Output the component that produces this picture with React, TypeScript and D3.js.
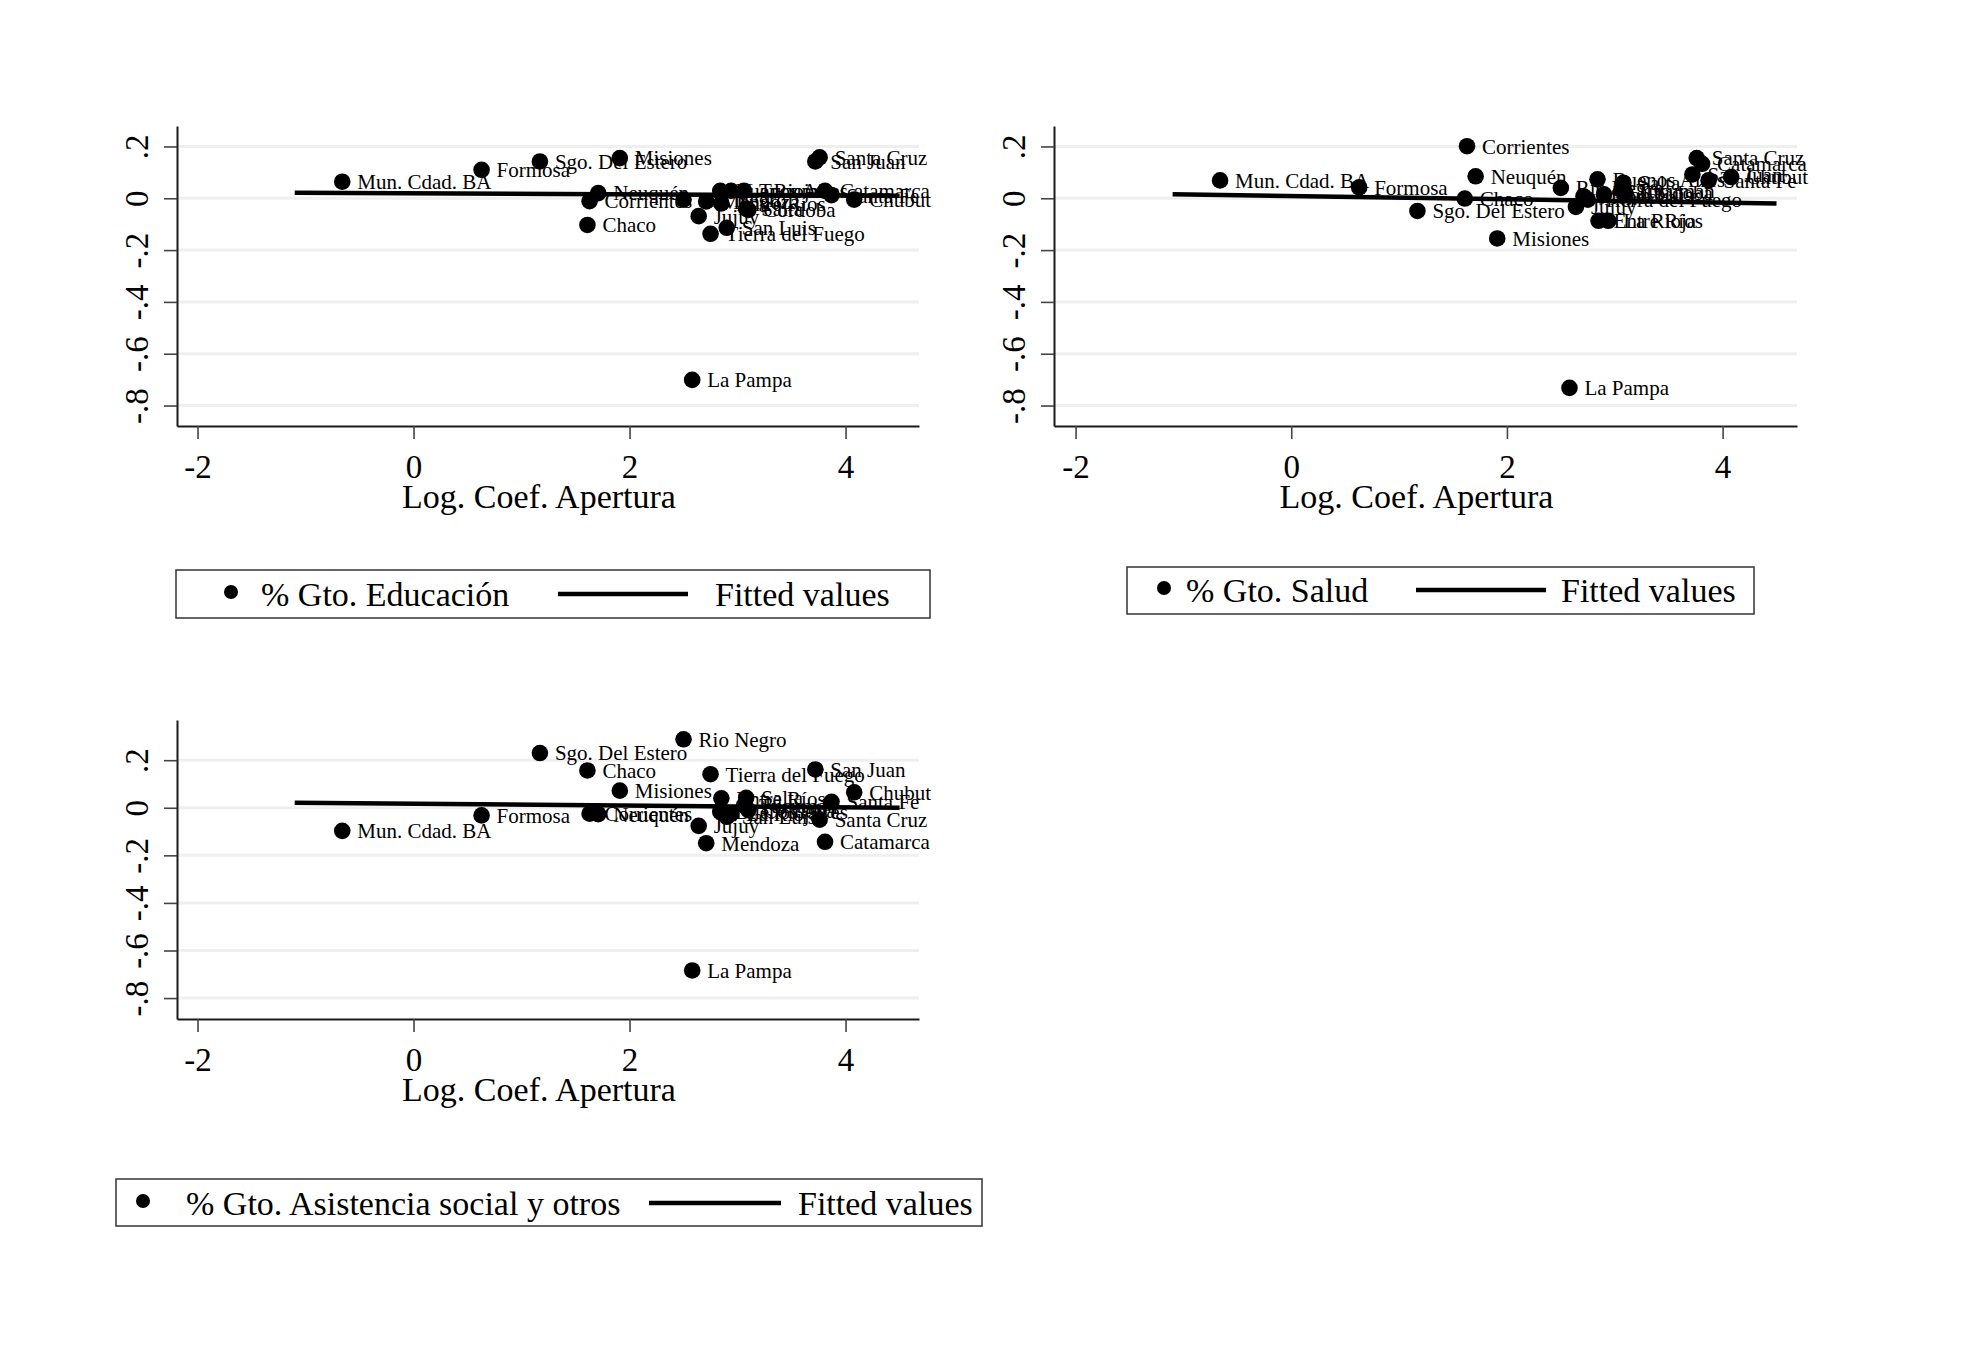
import React, { useEffect, useRef } from 'react';
import * as d3 from 'd3';

// provinces (same order in every series)
const provinces = [
  'Mun. Cdad. BA', 'Formosa', 'Sgo. Del Estero', 'Chaco', 'Corrientes', 'Neuquén',
  'Misiones', 'Rio Negro', 'La Pampa', 'Jujuy', 'Mendoza', 'Tierra del Fuego',
  'Buenos Aires', 'Entre Ríos', 'San Luis', 'La Rioja', 'Tucumán', 'Salta',
  'Córdoba', 'San Juan', 'Santa Cruz', 'Catamarca', 'Santa Fe', 'Chubut',
];

// Log. Coef. Apertura
const apertura = [
  -0.66, 0.63, 1.17, 1.61, 1.63, 1.71,
  1.91, 2.5, 2.58, 2.64, 2.71, 2.75,
  2.84, 2.85, 2.9, 2.94, 3.06, 3.08,
  3.1, 3.72, 3.76, 3.81, 3.87, 4.08,
];

const educacion = [
  0.064, 0.11, 0.142, -0.103, -0.011, 0.02,
  0.155, -0.005, -0.701, -0.069, -0.012, -0.137,
  0.029, -0.02, -0.114, 0.029, 0.029, -0.04,
  -0.045, 0.142, 0.158, 0.029, 0.012, -0.005,
];

const salud = [
  0.069, 0.042, -0.049, -0.001, 0.201, 0.085,
  -0.155, 0.04, -0.732, -0.033, 0.008, -0.005,
  0.073, -0.087, 0.015, -0.087, 0.031, 0.06,
  0.02, 0.092, 0.155, 0.133, 0.069, 0.082,
];

const asistencia = [
  -0.097, -0.032, 0.23, 0.157, -0.025, -0.027,
  0.072, 0.288, -0.684, -0.076, -0.149, 0.141,
  -0.017, 0.04, -0.038, -0.025, 0.01, 0.042,
  -0.01, 0.161, -0.05, -0.143, 0.025, 0.065,
];

// fitted values at the ends of the fitted range
const fitX = [-1.1, 4.5];
const fitEducacion = [0.021, 0.01];
const fitSalud = [0.016, -0.02];
const fitAsistencia = [0.021, 0.0];

const xTicks = [-2, 0, 2, 4];
const xTickLabels = ['-2', '0', '2', '4'];
const yTicks = [0.2, 0, -0.2, -0.4, -0.6, -0.8];
const yTickLabels = ['.2', '0', '-.2', '-.4', '-.6', '-.8'];

const xTitle = 'Log. Coef. Apertura';
const fitLabel = 'Fitted values';

const FONT = '"Liberation Serif", "Times New Roman", serif';

interface PanelCfg {
  values: number[];
  fit: number[];
  legend: string;
  left: number;
  right: number;
  top: number;
  bottom: number;
  xDomain: [number, number];
  yDomain: [number, number];
  box: [number, number, number, number];
  dotX: number;
  textX: number;
  lineX: [number, number];
  fitTextX: number;
  legendY: number;
}

const panels: PanelCfg[] = [
  {
    values: educacion, fit: fitEducacion, legend: '% Gto. Educación',
    left: 177, right: 919, top: 126, bottom: 426,
    xDomain: [-2.19, 4.68], yDomain: [-0.879, 0.279],
    box: [176, 570, 930, 618], dotX: 231, textX: 261, lineX: [558, 688], fitTextX: 715, legendY: 594,
  },
  {
    values: salud, fit: fitSalud, legend: '% Gto. Salud',
    left: 1054, right: 1797, top: 126, bottom: 426,
    xDomain: [-2.2, 4.69], yDomain: [-0.879, 0.279],
    box: [1127, 567, 1754, 614], dotX: 1164, textX: 1186, lineX: [1416, 1546], fitTextX: 1561, legendY: 590,
  },
  {
    values: asistencia, fit: fitAsistencia, legend: '% Gto. Asistencia social y otros',
    left: 177, right: 919, top: 720, bottom: 1019,
    xDomain: [-2.19, 4.68], yDomain: [-0.888, 0.369],
    box: [116, 1179, 982, 1226], dotX: 143, textX: 186, lineX: [649, 781], fitTextX: 798, legendY: 1203,
  },
];

function drawPanel(svg: d3.Selection<SVGSVGElement, unknown, null, undefined>, cfg: PanelCfg) {
  const x = d3.scaleLinear().domain(cfg.xDomain).range([cfg.left, cfg.right]);
  const y = d3.scaleLinear().domain(cfg.yDomain).range([cfg.bottom, cfg.top]);
  const g = svg.append('g');

  // light grid lines at the y ticks
  g.selectAll('line.grid')
    .data(yTicks)
    .join('line')
    .attr('class', 'grid')
    .attr('x1', cfg.left)
    .attr('x2', cfg.right)
    .attr('y1', (d) => y(d))
    .attr('y2', (d) => y(d))
    .attr('stroke', '#efefef')
    .attr('stroke-width', 3);

  // y axis
  const yAxis = g
    .append('g')
    .attr('transform', `translate(${cfg.left},0)`)
    .call(
      d3.axisLeft(y)
        .tickValues(yTicks)
        .tickSize(13)
        .tickSizeOuter(0)
        .tickFormat((_, i) => yTickLabels[i])
    );
  yAxis.select('.domain').attr('stroke', '#1a1a1a').attr('stroke-width', 2);
  yAxis.selectAll('.tick line').attr('stroke', '#444').attr('stroke-width', 1.6);
  yAxis
    .selectAll('.tick text')
    .attr('transform', 'rotate(-90)')
    .attr('x', 0)
    .attr('y', -29)
    .attr('dy', 0)
    .attr('text-anchor', 'middle')
    .attr('fill', '#000')
    .attr('font-family', FONT)
    .attr('font-size', 33);

  // x axis
  const xAxis = g
    .append('g')
    .attr('transform', `translate(0,${cfg.bottom})`)
    .call(
      d3.axisBottom(x)
        .tickValues(xTicks)
        .tickSize(13)
        .tickSizeOuter(0)
        .tickFormat((_, i) => xTickLabels[i])
    );
  xAxis.select('.domain').attr('stroke', '#1a1a1a').attr('stroke-width', 2);
  xAxis.selectAll('.tick line').attr('stroke', '#444').attr('stroke-width', 1.6);
  xAxis
    .selectAll('.tick text')
    .attr('y', 52)
    .attr('dy', 0)
    .attr('fill', '#000')
    .attr('font-family', FONT)
    .attr('font-size', 33);

  // x title
  g.append('text')
    .attr('x', (cfg.left + cfg.right) / 2 - 9)
    .attr('y', cfg.bottom + 82)
    .attr('text-anchor', 'middle')
    .attr('font-family', FONT)
    .attr('font-size', 34)
    .text(xTitle);

  // fitted line
  const line = d3
    .line<number>()
    .x((d) => x(d))
    .y((_, i) => y(cfg.fit[i]));
  g.append('path')
    .datum(fitX)
    .attr('d', line)
    .attr('fill', 'none')
    .attr('stroke', '#000')
    .attr('stroke-width', 4.5);

  // markers with labels
  const pts = provinces.map((name, i) => ({ name, x: apertura[i], y: cfg.values[i] }));
  const pt = g.selectAll('g.pt').data(pts).join('g').attr('class', 'pt');
  pt.append('circle')
    .attr('cx', (d) => x(d.x))
    .attr('cy', (d) => y(d.y))
    .attr('r', 8.3)
    .attr('fill', '#000');
  pt.append('text')
    .attr('x', (d) => x(d.x) + 15)
    .attr('y', (d) => y(d.y))
    .attr('dy', '0.35em')
    .attr('font-family', FONT)
    .attr('font-size', 21)
    .attr('fill', '#000')
    .text((d) => d.name);

  // legend
  const [bx0, by0, bx1, by1] = cfg.box;
  const lg = svg.append('g');
  lg.append('rect')
    .attr('x', bx0)
    .attr('y', by0)
    .attr('width', bx1 - bx0)
    .attr('height', by1 - by0)
    .attr('fill', '#fff')
    .attr('stroke', '#333')
    .attr('stroke-width', 1.5);
  lg.append('circle').attr('cx', cfg.dotX).attr('cy', cfg.legendY - 2).attr('r', 7).attr('fill', '#000');
  lg.append('text')
    .attr('x', cfg.textX)
    .attr('y', cfg.legendY)
    .attr('dy', '0.35em')
    .attr('font-family', FONT)
    .attr('font-size', 34)
    .text(cfg.legend);
  lg.append('line')
    .attr('x1', cfg.lineX[0])
    .attr('x2', cfg.lineX[1])
    .attr('y1', cfg.legendY)
    .attr('y2', cfg.legendY)
    .attr('stroke', '#000')
    .attr('stroke-width', 4.5);
  lg.append('text')
    .attr('x', cfg.fitTextX)
    .attr('y', cfg.legendY)
    .attr('dy', '0.35em')
    .attr('font-family', FONT)
    .attr('font-size', 34)
    .text(fitLabel);
}

export default function App() {
  const svgRef = useRef<SVGSVGElement>(null);

  useEffect(() => {
    if (!svgRef.current) return;
    const svg = d3.select(svgRef.current);
    svg.selectAll('*').remove();
    svg.append('rect').attr('width', 1984).attr('height', 1358).attr('fill', '#fff');
    panels.forEach((p) => drawPanel(svg, p));
  }, []);

  return (
    <svg
      ref={svgRef}
      width={1984}
      height={1358}
      style={{ position: 'absolute', left: 0, top: 0, background: '#fff' }}
    />
  );
}
